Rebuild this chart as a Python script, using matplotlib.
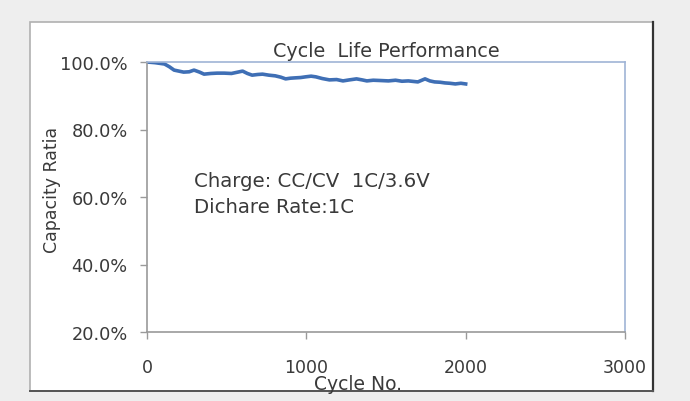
import matplotlib
matplotlib.use("Agg")
import matplotlib.pyplot as plt
from matplotlib.patches import Rectangle
from matplotlib.ticker import FuncFormatter

# ---- data ----
cycles = [0, 50, 110, 140, 170, 230, 265, 295, 330, 358, 400, 440, 485, 530, 570, 600,
          630, 660, 695, 725, 765, 805, 840, 870, 900, 930, 965, 995, 1030, 1060, 1100,
          1145, 1190, 1230, 1270, 1315, 1350, 1380, 1420, 1470, 1515, 1560, 1600, 1640,
          1700, 1745, 1775, 1805, 1840, 1870, 1900, 1935, 1970, 2000]
capacity = [100.0, 99.8, 99.4, 98.6, 97.6, 97.0, 97.1, 97.6, 97.0, 96.4, 96.6, 96.7, 96.7,
            96.6, 97.0, 97.3, 96.6, 96.1, 96.3, 96.4, 96.1, 95.9, 95.5, 95.0, 95.2, 95.3,
            95.4, 95.6, 95.8, 95.6, 95.1, 94.7, 94.8, 94.4, 94.7, 95.0, 94.7, 94.4, 94.6,
            94.5, 94.4, 94.6, 94.3, 94.4, 94.1, 95.0, 94.4, 94.1, 94.0, 93.8, 93.7, 93.5,
            93.7, 93.5]

x_ticks = [0, 1000, 2000, 3000]
y_ticks = [20, 40, 60, 80, 100]

title = "Cycle  Life Performance"
x_label = "Cycle No."
y_label = "Capacity Ratia"
note_lines = ["Charge: CC/CV  1C/3.6V", "Dichare Rate:1C"]

FONT = "DejaVu Sans"
TXT = "#3a3a3a"
W, H = 690, 402

fig = plt.figure(figsize=(W / 100, H / 100), dpi=100)
fig.patch.set_facecolor("#eeeeee")

px = lambda x: x / W
py = lambda y: 1 - y / H

# white chart panel with shadowed border (background axes)
bg = fig.add_axes([0, 0, 1, 1], zorder=0)
bg.set_xlim(0, W)
bg.set_ylim(H, 0)
bg.axis("off")
bg.add_patch(Rectangle((30, 23), 623, 369, facecolor="white",
                       edgecolor="#b0b0b0", linewidth=1.2))
bg.plot([653, 653], [23, 392], color="#333333", linewidth=1.6)
bg.plot([30, 653], [392, 392], color="#555555", linewidth=1.4)

ax = fig.add_axes([px(147), py(333), px(625) - px(147), py(63) - py(333)], zorder=5)
ax.set_facecolor("white")
ax.plot(cycles, capacity, color="#3f6fb5", linewidth=2.6, solid_joinstyle="round")

ax.set_xlim(0, 3000)
ax.set_ylim(20, 100)
ax.set_xticks(x_ticks)
ax.set_yticks(y_ticks)
ax.yaxis.set_major_formatter(FuncFormatter(lambda v, p: f"{v:.1f}%"))

for s in ["left", "bottom"]:
    ax.spines[s].set_color("#9a9a9a")
    ax.spines[s].set_linewidth(1.2)
for s in ["top", "right"]:
    ax.spines[s].set_color("#9fb4d6")
    ax.spines[s].set_linewidth(1.2)

ax.tick_params(axis="x", direction="out", length=5, width=1, color="#9a9a9a",
               pad=14, labelsize=12.5, labelcolor=TXT)
ax.tick_params(axis="y", direction="out", length=5, width=1, color="#9a9a9a",
               pad=9, labelsize=12.8, labelcolor=TXT)
for lbl in ax.get_xticklabels() + ax.get_yticklabels():
    lbl.set_family(FONT)

ax.set_title(title, fontsize=13.8, family=FONT, color=TXT, pad=4)
ax.set_xlabel(x_label, fontsize=13.5, family=FONT, color=TXT)
ax.xaxis.set_label_coords((358 - 147) / (625 - 147), (333 - 385) / (333 - 63), transform=ax.transAxes)
ax.xaxis.label.set_va("center")
ax.set_ylabel(y_label, fontsize=12.5, family=FONT, color=TXT)
ax.yaxis.set_label_coords((52 - 147) / (625 - 147), (333 - 190) / (333 - 63), transform=ax.transAxes)
ax.yaxis.label.set_va("center")

ax.text((194 - 147) / (625 - 147), (333 - 182) / (333 - 63), note_lines[0],
        transform=ax.transAxes, fontsize=14.2, family=FONT, color=TXT, va="center", ha="left")
ax.text((194 - 147) / (625 - 147), (333 - 208) / (333 - 63), note_lines[1],
        transform=ax.transAxes, fontsize=14.2, family=FONT, color=TXT, va="center", ha="left")

fig.savefig("out.png", dpi=100, facecolor=fig.get_facecolor())
